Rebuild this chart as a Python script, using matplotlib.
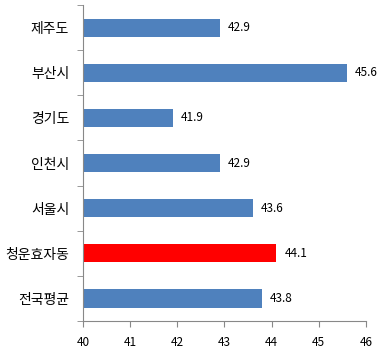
import matplotlib.pyplot as plt

plt.rcParams['font.family'] = ['Noto Sans CJK KR', 'DejaVu Sans']

regions = ["제주도", "부산시", "경기도", "인천시", "서울시", "청운효자동", "전국평균"]
values = [42.9, 45.6, 41.9, 42.9, 43.6, 44.1, 43.8]
colors = ["#4F81BD", "#4F81BD", "#4F81BD", "#4F81BD", "#4F81BD", "#FF0000", "#4F81BD"]

fig = plt.figure(figsize=(3.9, 3.56), dpi=100)
ax = fig.add_axes([0.213, 0.098, 0.725, 0.888])

pos = list(range(len(regions)))[::-1]
ax.barh(pos, [v - 40 for v in values], left=40, height=0.4, color=colors)

for p, v in zip(pos, values):
    ax.text(v + 0.17, p, f"{v}", va="center", ha="left", fontsize=8.5)

ax.set_xlim(40, 46)
ax.set_ylim(-0.5, len(regions) - 0.5)
ax.set_xticks(range(40, 47))
ax.tick_params(axis="x", labelsize=8.5, length=4, color="#888888", pad=7)
ax.set_yticks(pos)
ax.set_yticklabels(regions, fontsize=10)
ax.set_yticks([p + 0.5 for p in range(-1, len(regions))], minor=True)
ax.tick_params(axis="y", which="major", length=0, pad=10)
ax.tick_params(axis="y", which="minor", length=4, color="#888888")

for s in ["top", "right"]:
    ax.spines[s].set_visible(False)
for s in ["left", "bottom"]:
    ax.spines[s].set_color("#888888")

fig.savefig("out.png", dpi=100)
